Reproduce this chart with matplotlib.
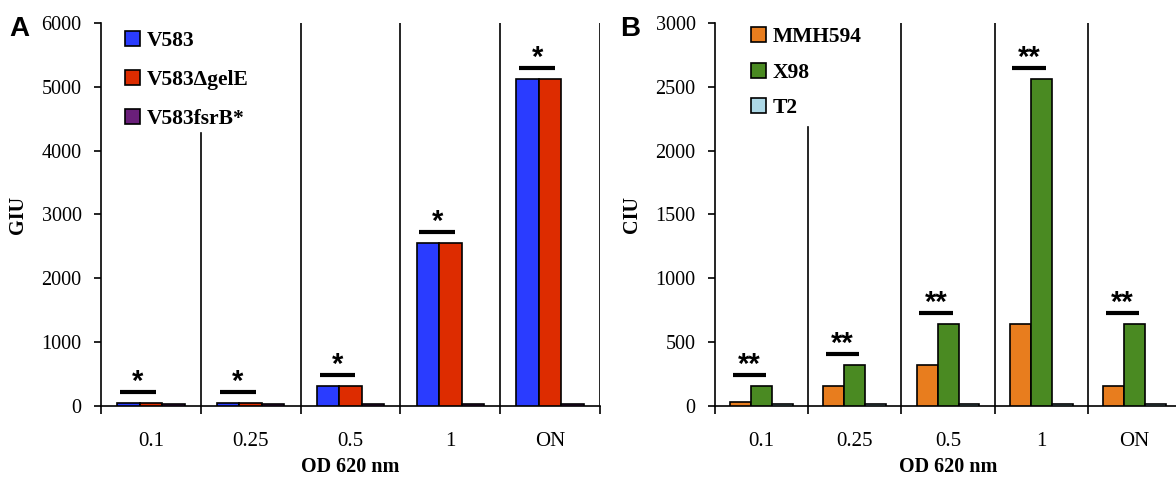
import numpy as np
import matplotlib
matplotlib.use("Agg")
import matplotlib.pyplot as plt
from matplotlib.patches import Patch

plt.rcParams['font.family'] = ['Liberation Serif', 'DejaVu Serif']

# data
groups = ['0.1', '0.25', '0.5', '1', 'ON']
v583 = [50, 50, 320, 2560, 5120]
v583_gele = [50, 50, 320, 2560, 5120]
v583_fsrb = [30, 30, 30, 30, 30]
mmh594 = [35, 160, 320, 640, 160]
x98 = [160, 320, 640, 2560, 640]
t2 = [18, 18, 18, 18, 18]
sig_a = ['*', '*', '*', '*', '*']
sig_b = ['**', '**', '**', '**', '**']

fig = plt.figure(figsize=(11.76, 4.79), dpi=100)
axA = fig.add_axes([0.0859, 0.1524, 0.4243, 0.7996])
axB = fig.add_axes([0.608, 0.1524, 0.3963, 0.7996])


def panel(ax, series, names, colors, ymax, ystep, ylabel, sig, sep_top,
          leg_x, leg_y, leg_space):
    x = np.arange(len(groups))
    w = 0.225
    for i, (vals, c) in enumerate(zip(series, colors)):
        ax.bar(x + (i - 1) * w, vals, w, color=c, edgecolor='black', linewidth=1.2, zorder=3)
    # significance bars over first two series
    px = ymax / 383.0
    for xi, s in enumerate(sig):
        top = max(series[0][xi], series[1][xi])
        ly = top + 11 * px
        ax.plot([xi - 0.31, xi + 0.05], [ly, ly], color='black', lw=3.0,
                solid_capstyle='butt', zorder=4)
        ax.text(xi - 0.13, ly + 2 * px, s, ha='center', va='baseline',
                fontsize=21, fontweight='bold', family='Liberation Sans')
    # group separators
    for b in range(1, len(groups) + 1):
        ax.axvline(b - 0.5, ymin=0, ymax=sep_top if b == 1 else 1,
                   color='black', lw=1.2, zorder=2)
    ax.set_xlim(-0.5, len(groups) - 0.5)
    ax.set_ylim(0, ymax)
    ax.set_yticks(np.arange(0, ymax + 1, ystep))
    ax.set_xticks(np.arange(len(groups) + 1) - 0.5)
    ax.set_xticklabels([])
    ax.set_xticks(x, minor=True)
    ax.set_xticklabels(groups, minor=True, fontsize=15)
    ax.tick_params(axis='x', which='major', direction='out', length=6, width=1.2)
    ax.tick_params(axis='x', which='minor', length=0, pad=19)
    ax.tick_params(axis='y', direction='out', length=5, width=1.2, labelsize=14.5, pad=9)
    for sp in ['top', 'right']:
        ax.spines[sp].set_visible(False)
    for sp in ['left', 'bottom']:
        ax.spines[sp].set_linewidth(1.2)
    ax.set_xlabel('OD 620 nm', fontsize=14.5, fontweight='bold', labelpad=4)
    ax.set_ylabel(ylabel, fontsize=14.5, fontweight='bold', labelpad=10)
    handles = [Patch(facecolor=c, edgecolor='black', linewidth=1.2) for c in colors]
    ax.legend(handles, names, loc='upper left', bbox_to_anchor=(leg_x, leg_y),
              frameon=False, handlelength=0.7, handleheight=0.7, handletextpad=0.3,
              labelspacing=leg_space, prop={'weight': 'bold', 'size': 15.5})


panel(axA, [v583, v583_gele, v583_fsrb], ['V583', 'V583ΔgelE', 'V583fsrB*'],
      ['#2a3cff', '#dd2c00', '#6a1f7a'], 6000, 1000, 'GIU', sig_a, 0.713,
      0.01, 1.03, 0.88)
panel(axB, [mmh594, x98, t2], ['MMH594', 'X98', 'T2'],
      ['#e87d1e', '#4a8a22', '#add8e6'], 3000, 500, 'CIU', sig_b, 0.728,
      0.035, 1.04, 0.72)

fig.text(0.008, 0.925, 'A', fontsize=20, fontweight='bold', family='Liberation Sans')
fig.text(0.527, 0.925, 'B', fontsize=20, fontweight='bold', family='Liberation Sans')

fig.savefig('out.png', dpi=100)
